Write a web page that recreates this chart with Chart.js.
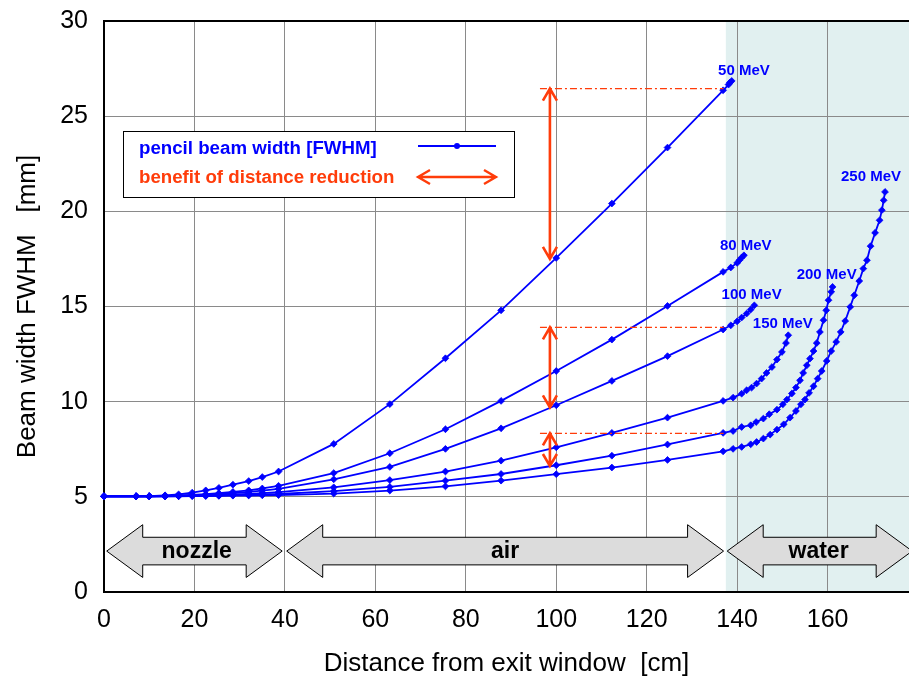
<!DOCTYPE html>
<html>
<head>
<meta charset="utf-8">
<script src="https://cdn.jsdelivr.net/npm/chart.js@4.4.1/dist/chart.umd.min.js"></script>
<style>
  html, body { margin: 0; padding: 0; background: #ffffff; }
  #wrap { width: 909px; height: 681px; }
</style>
</head>
<body>
<div id="wrap"><canvas id="c" width="909" height="681"></canvas></div>
<script>
// ---------------- data ----------------
const energies = ['50 MeV', '80 MeV', '100 MeV', '150 MeV', '200 MeV', '250 MeV'];

const x50 = [0, 7.1, 10, 13.5, 16.5, 19.5, 22.5, 25.4, 28.5, 32, 35, 38.6,
  50.8, 63.2, 75.5, 87.8, 100, 112.3, 124.6, 136.9, 138.1, 138.4, 138.8];
const y50 = [5.03, 5.03, 5.04, 5.08, 5.13, 5.22, 5.34, 5.47, 5.64, 5.83, 6.04, 6.33,
  7.78, 9.87, 12.28, 14.80, 17.55, 20.41, 23.35, 26.36, 26.66, 26.77, 26.85];

const x80 = [0, 7.1, 10, 13.5, 16.5, 19.5, 22.5, 25.4, 28.5, 32, 35, 38.6,
  50.8, 63.2, 75.5, 87.8, 100, 112.3, 124.6, 136.9, 138.6, 140, 140.5, 141, 141.5];
const y80 = [5.03, 5.03, 5.03, 5.05, 5.07, 5.10, 5.14, 5.19, 5.26, 5.34, 5.44, 5.58,
  6.25, 7.29, 8.55, 10.04, 11.61, 13.26, 15.03, 16.82, 17.05, 17.29, 17.43, 17.57, 17.69];

const x100 = [0, 7.1, 10, 13.5, 16.5, 19.5, 22.5, 25.4, 28.5, 32, 35, 38.6,
  50.8, 63.2, 75.5, 87.8, 100, 112.3, 124.6, 136.9, 138.6, 140, 141, 142.1, 143, 143.8];
const y100 = [5.03, 5.03, 5.03, 5.04, 5.06, 5.08, 5.11, 5.15, 5.20, 5.26, 5.33, 5.42,
  5.92, 6.57, 7.52, 8.60, 9.81, 11.09, 12.39, 13.79, 14.01, 14.22, 14.42, 14.63, 14.84, 15.06];

const x150 = [0, 7.1, 10, 13.5, 16.5, 19.5, 22.5, 25.4, 28.5, 32, 35, 38.6,
  50.8, 63.2, 75.5, 87.8, 100, 112.3, 124.6, 136.9,
  139.1, 141, 142.1, 143.2, 144.3, 145.4, 146.5, 147.7, 148.8, 149.9, 150.8, 151.3];
const y150 = [5.03, 5.03, 5.03, 5.04, 5.05, 5.06, 5.08, 5.10, 5.13, 5.16, 5.20, 5.25,
  5.50, 5.88, 6.33, 6.90, 7.60, 8.36, 9.16, 10.04,
  10.21, 10.42, 10.60, 10.74, 10.95, 11.21, 11.51, 11.82, 12.21, 12.61, 13.08, 13.49];

const x200 = [0, 7.1, 10, 13.5, 16.5, 19.5, 22.5, 25.4, 28.5, 32, 35, 38.6,
  50.8, 63.2, 75.5, 87.8, 100, 112.3, 124.6, 136.9,
  139.1, 141, 143, 144.2, 145.8, 147.1, 148.8, 150.1, 151, 152.1, 153, 153.9,
  154.6, 155.4, 156.1, 156.9, 157.6, 158.3, 159.1, 159.7, 160.2, 160.8, 161.1];
const y200 = [5.03, 5.03, 5.03, 5.03, 5.04, 5.05, 5.06, 5.07, 5.09, 5.11, 5.13, 5.15,
  5.30, 5.52, 5.85, 6.20, 6.66, 7.16, 7.75, 8.36,
  8.46, 8.67, 8.76, 8.93, 9.11, 9.34, 9.58, 9.86, 10.11, 10.43, 10.74, 11.12,
  11.51, 11.91, 12.26, 12.66, 13.08, 13.66, 14.28, 14.80, 15.33, 15.77, 16.03];

const x250 = [0, 7.1, 10, 13.5, 16.5, 19.5, 22.5, 25.4, 28.5, 32, 35, 38.6,
  50.8, 63.2, 75.5, 87.8, 100, 112.3, 124.6, 136.9,
  139.1, 141, 143, 144.3, 145.8, 147.3, 148.8, 150.3, 151.7, 153, 154.1, 155,
  155.9, 156.9, 157.8, 158.7, 159.8, 160.8, 161.9, 162.9, 163.9, 165, 165.9,
  167, 167.9, 168.7, 169.5, 170.5, 171.5, 172, 172.4, 172.7];
const y250 = [5.03, 5.03, 5.03, 5.03, 5.03, 5.04, 5.04, 5.05, 5.06, 5.07, 5.08, 5.09,
  5.17, 5.33, 5.55, 5.85, 6.19, 6.54, 6.94, 7.39,
  7.52, 7.62, 7.76, 7.88, 8.06, 8.27, 8.53, 8.81, 9.16, 9.51, 9.86, 10.11,
  10.46, 10.81, 11.21, 11.61, 12.14, 12.66, 13.14, 13.66, 14.24, 14.98, 15.59,
  16.34, 16.99, 17.43, 18.17, 18.87, 19.53, 20.06, 20.58, 21.02];

// regions along the beam path [cm]
const regionNames = ['nozzle', 'air', 'water'];
const regionStart = [0.6, 40.4, 137.8];
const regionEnd = [39.4, 137.0, 178.7];
const regionLabelX = [20.5, 88.7, 158];
const waterStart = 137.5;

// "benefit of distance reduction" arrows: x, from, to [mm]
const benefitX = 98.6;
const benefitFrom = [26.45, 13.9, 8.33];
const benefitTo = [17.5, 9.7, 6.62];
const refLineFrom = 96.4;
const refLineTo = 137.0;

// label anchors for each energy (data units)
const labelX = [141.5, 141.9, 143.2, 150.1, 159.8, 169.6];
const labelY = [27.38, 18.17, 15.59, 14.10, 16.64, 21.81];

const xTickStep = 20, yTickStep = 5;
const xMin = 0, xMax = 178, yMin = 0, yMax = 30;

// ---------------- chart ----------------
const BLUE = '#0000ff';
const RED = '#ff3c0a';
const FONT = '"Liberation Sans", Helvetica, Arial, sans-serif';

const xsAll = [x50, x80, x100, x150, x200, x250];
const ysAll = [y50, y80, y100, y150, y200, y250];

const datasets = energies.map((name, i) => ({
  label: name,
  data: xsAll[i].map((x, k) => ({ x: x, y: ysAll[i][k] })),
  borderColor: BLUE,
  backgroundColor: BLUE,
  borderWidth: 1.8,
  pointStyle: 'rectRot',
  pointRadius: 3.4,
  pointBorderWidth: 0.8,
  pointBackgroundColor: BLUE,
  pointBorderColor: BLUE,
  tension: 0,
  fill: false,
  clip: false
}));

function doubleArrowH(ctx, x1, x2, yc, shaftH, headH, headL) {
  ctx.beginPath();
  ctx.moveTo(x1, yc);
  ctx.lineTo(x1 + headL, yc - headH);
  ctx.lineTo(x1 + headL, yc - shaftH);
  ctx.lineTo(x2 - headL, yc - shaftH);
  ctx.lineTo(x2 - headL, yc - headH);
  ctx.lineTo(x2, yc);
  ctx.lineTo(x2 - headL, yc + headH);
  ctx.lineTo(x2 - headL, yc + shaftH);
  ctx.lineTo(x1 + headL, yc + shaftH);
  ctx.lineTo(x1 + headL, yc + headH);
  ctx.closePath();
}

const backgroundPlugin = {
  id: 'waterBackground',
  beforeDraw(chart) {
    const { ctx, chartArea: a, scales: { x } } = chart;
    ctx.save();
    ctx.fillStyle = '#ffffff';
    ctx.fillRect(0, 0, chart.width, chart.height);
    const wx = x.getPixelForValue(waterStart);
    ctx.fillStyle = '#e1f0f0';
    ctx.fillRect(wx, a.top, a.right - wx, a.bottom - a.top);
    ctx.restore();
  }
};

const regionPlugin = {
  id: 'regions',
  beforeDatasetsDraw(chart) {
    const { ctx, scales: { x, y } } = chart;
    ctx.save();
    const yc = y.getPixelForValue(2.15);
    const shaftH = (y.getPixelForValue(1.44) - y.getPixelForValue(2.89)) / 2;
    const headH = (y.getPixelForValue(0.77) - y.getPixelForValue(3.54)) / 2;
    for (let i = 0; i < regionNames.length; i++) {
      const x1 = x.getPixelForValue(regionStart[i]);
      const x2 = x.getPixelForValue(regionEnd[i]);
      doubleArrowH(ctx, x1, x2, yc, shaftH, headH, 36);
      ctx.fillStyle = '#dcdcdc';
      ctx.fill();
      ctx.strokeStyle = '#000000';
      ctx.lineWidth = 1;
      ctx.stroke();
      ctx.fillStyle = '#000000';
      ctx.font = 'bold 23px ' + FONT;
      ctx.textAlign = 'center';
      ctx.textBaseline = 'middle';
      ctx.fillText(regionNames[i], x.getPixelForValue(regionLabelX[i]), yc + 1);
    }
    ctx.restore();
  }
};

function vArrow(ctx, xp, y1, y2) {
  const hl = 12, hw = 7;
  ctx.beginPath();
  ctx.moveTo(xp, y1); ctx.lineTo(xp, y2);
  ctx.moveTo(xp - hw, y1 + hl); ctx.lineTo(xp, y1); ctx.lineTo(xp + hw, y1 + hl);
  ctx.moveTo(xp - hw, y2 - hl); ctx.lineTo(xp, y2); ctx.lineTo(xp + hw, y2 - hl);
  ctx.stroke();
}

const benefitPlugin = {
  id: 'benefit',
  afterDatasetsDraw(chart) {
    const { ctx, scales: { x, y } } = chart;
    ctx.save();
    ctx.strokeStyle = RED;
    ctx.lineWidth = 1.2;
    ctx.setLineDash([7, 3, 2, 3]);
    const lx1 = x.getPixelForValue(refLineFrom), lx2 = x.getPixelForValue(refLineTo);
    for (let i = 0; i < benefitFrom.length; i++) {
      const py = y.getPixelForValue(benefitFrom[i]);
      ctx.beginPath(); ctx.moveTo(lx1, py); ctx.lineTo(lx2, py); ctx.stroke();
    }
    ctx.setLineDash([]);
    ctx.lineWidth = 2.6;
    ctx.lineJoin = 'miter';
    const bx = x.getPixelForValue(benefitX);
    for (let i = 0; i < benefitFrom.length; i++) {
      vArrow(ctx, bx, y.getPixelForValue(benefitFrom[i]), y.getPixelForValue(benefitTo[i]));
    }
    ctx.restore();
  }
};

const labelsPlugin = {
  id: 'labelsLegend',
  afterDraw(chart) {
    const { ctx, chartArea: a, scales: { x, y } } = chart;
    ctx.save();
    // top frame
    ctx.strokeStyle = '#000000';
    ctx.lineWidth = 2;
    ctx.beginPath(); ctx.moveTo(a.left - 1, a.top); ctx.lineTo(a.right, a.top); ctx.stroke();
    // energy labels
    ctx.fillStyle = BLUE;
    ctx.font = 'bold 15px ' + FONT;
    ctx.textAlign = 'center';
    ctx.textBaseline = 'middle';
    for (let i = 0; i < energies.length; i++) {
      ctx.fillText(energies[i], x.getPixelForValue(labelX[i]), y.getPixelForValue(labelY[i]));
    }
    // legend box
    const bx = a.left + 19, by = a.top + 110, bw = 391, bh = 66;
    ctx.fillStyle = '#ffffff';
    ctx.fillRect(bx, by, bw, bh);
    ctx.strokeStyle = '#000000';
    ctx.lineWidth = 1;
    ctx.strokeRect(bx + 0.5, by + 0.5, bw, bh);
    ctx.font = 'bold 18.7px ' + FONT;
    ctx.textAlign = 'left';
    ctx.fillStyle = BLUE;
    ctx.fillText('pencil beam width [FWHM]', bx + 16, by + 18);
    ctx.fillStyle = RED;
    ctx.fillText('benefit of distance reduction', bx + 16, by + 47);
    // legend samples
    const sx1 = bx + 295, sx2 = bx + 373;
    ctx.strokeStyle = BLUE; ctx.lineWidth = 2;
    ctx.beginPath(); ctx.moveTo(sx1, by + 15); ctx.lineTo(sx2, by + 15); ctx.stroke();
    ctx.fillStyle = BLUE;
    ctx.beginPath(); ctx.arc((sx1 + sx2) / 2, by + 15, 3, 0, Math.PI * 2); ctx.fill();
    ctx.strokeStyle = RED; ctx.lineWidth = 2.4;
    const ry = by + 46;
    ctx.beginPath();
    ctx.moveTo(sx1, ry); ctx.lineTo(sx2, ry);
    ctx.moveTo(sx1 + 12, ry - 7); ctx.lineTo(sx1, ry); ctx.lineTo(sx1 + 12, ry + 7);
    ctx.moveTo(sx2 - 12, ry - 7); ctx.lineTo(sx2, ry); ctx.lineTo(sx2 - 12, ry + 7);
    ctx.stroke();
    ctx.restore();
  }
};

new Chart(document.getElementById('c'), {
  type: 'line',
  data: { datasets: datasets },
  options: {
    responsive: false,
    animation: false,
    parsing: true,
    layout: { autoPadding: false, padding: { top: 21, right: 0, left: 0, bottom: 0 } },
    plugins: { legend: { display: false }, tooltip: { enabled: false } },
    scales: {
      x: {
        type: 'linear',
        min: xMin, max: xMax,
        afterFit(s) { s.height = 89; s.paddingLeft = 0; s.paddingRight = 0; },
        ticks: {
          stepSize: xTickStep, includeBounds: false, autoSkip: false, maxRotation: 0,
          color: '#000000', padding: 13,
          font: { family: FONT, size: 25 }
        },
        grid: { color: '#8a8a8a', lineWidth: 1, drawTicks: false },
        border: { color: '#000000', width: 2 },
        title: {
          display: true, text: 'Distance from exit window  [cm]', color: '#000000',
          font: { family: FONT, size: 26 }, padding: { top: 0, bottom: 2 }
        }
      },
      y: {
        type: 'linear',
        min: yMin, max: yMax,
        afterFit(s) { s.width = 104; s.paddingTop = 0; s.paddingBottom = 0; },
        ticks: {
          stepSize: yTickStep, color: '#000000', padding: 16,
          font: { family: FONT, size: 25 }
        },
        grid: { color: '#8a8a8a', lineWidth: 1, drawTicks: false },
        border: { color: '#000000', width: 2 },
        title: {
          display: true, text: 'Beam width FWHM   [mm]', color: '#000000',
          font: { family: FONT, size: 26 }, padding: { top: 12, bottom: 0 }
        }
      }
    }
  },
  plugins: [backgroundPlugin, regionPlugin, benefitPlugin, labelsPlugin]
});
</script>
</body>
</html>
